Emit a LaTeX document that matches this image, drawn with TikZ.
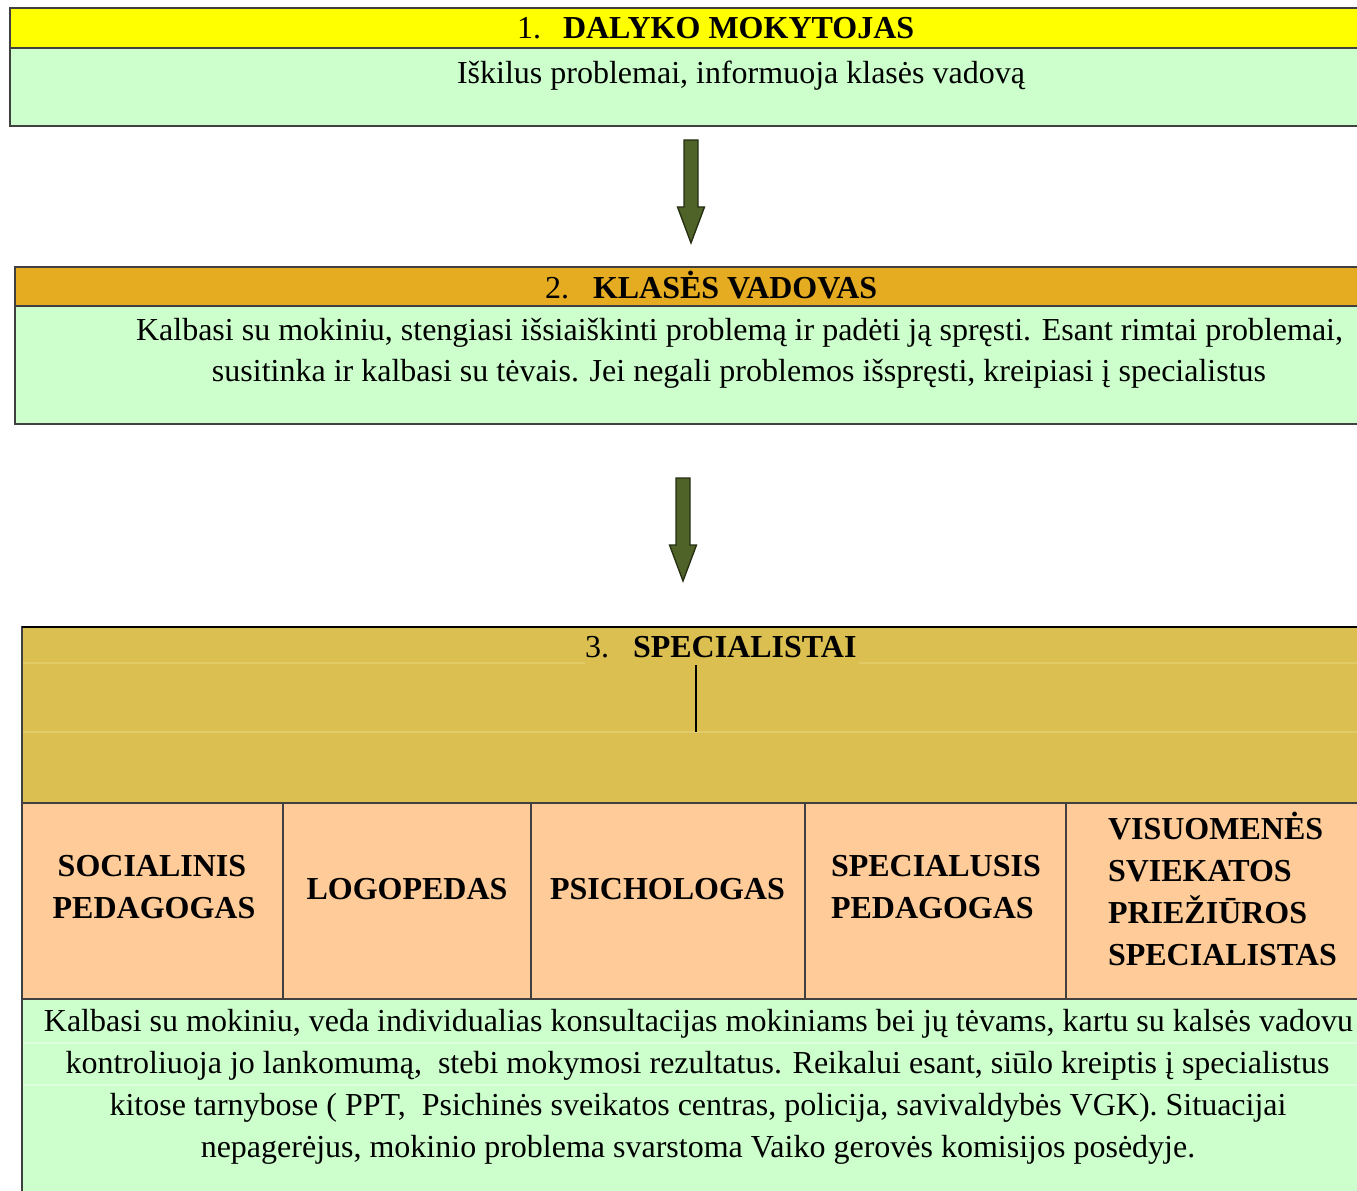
\documentclass[tikz,border=0pt]{standalone}
\usepackage{fontspec}
\setmainfont{Liberation Serif}
\usetikzlibrary{fit}
\definecolor{ylw}{HTML}{FFFF00}
\definecolor{grn}{HTML}{CCFFCC}
\definecolor{org}{HTML}{E5AC22}
\definecolor{gold}{HTML}{DBC051}
\definecolor{goldline}{HTML}{E1CB68}
\definecolor{grnline}{HTML}{DDFFDD}
\definecolor{peach}{HTML}{FFCC99}
\definecolor{olive}{HTML}{4F6228}
\definecolor{olivedark}{HTML}{262F12}
\definecolor{bord}{HTML}{404040}
\begin{document}
\begin{tikzpicture}[x=0.75pt,y=-0.75pt,
  every node/.style={font=\fontsize{24}{31.5}\selectfont, inner sep=0pt, outer sep=0pt},
  panel/.style={inner sep=0pt, draw=bord, line width=1pt},
  txt/.style={anchor=base},
  txtw/.style={anchor=base west},
  bold/.style={font=\fontsize{24}{31.5}\selectfont\bfseries},
  arrowst/.style={fill=olive, draw=olivedark, line width=1pt, line join=miter},
  blockarrow/.pic={\draw[arrowst] (-7,0) -- (7,0) -- (7,67) -- (13.5,67) -- (0,103) -- (-13.5,67) -- (-7,67) -- cycle;},
  faint/.style={line width=1pt}
]
\clip (0,0) rectangle (1357,1191);
\fill[white] (0,0) rectangle (1357,1191);

% ---- Box 1
\node[panel, fill=ylw, fit={(10,8) (1362,48)}] (h1) {};
\node[panel, fill=grn, fit={(10,48) (1362,126)}] (b1) {};
\node[txtw] (t1) at (517,38.5) {1.\hspace{16.5pt}\textbf{DALYKO MOKYTOJAS}};
\node[txt] (d1) at (741,84) {Iškilus problemai, informuoja klasės vadovą};

% ---- Arrow 1
\pic (arr1) at (691,140) {blockarrow};

% ---- Box 2
\node[panel, fill=org, fit={(15,267) (1362,306)}] (h2) {};
\node[panel, fill=grn, fit={(15,306) (1362,424)}] (b2) {};
\node[txtw] (t2) at (545,298.5) {2.\hspace{18pt}\textbf{KLASĖS VADOVAS}};
\node[txt] (d2a) at (739.5,340) {Kalbasi su mokiniu, stengiasi išsiaiškinti problemą ir padėti ją spręsti. Esant rimtai problemai,};
\node[txt] (d2b) at (739,382) {susitinka ir kalbasi su tėvais. Jei negali problemos išspręsti, kreipiasi į specialistus};

% ---- Arrow 2
\pic (arr2) at (683,478) {blockarrow};

% ---- Box 3
\node[panel, fill=gold, fit={(22,627) (1362,803)}] (h3) {};
\draw[goldline, faint] (23,663) -- (585,663);
\draw[goldline, faint] (859,663) -- (1357,663);
\draw[goldline, faint] (23,732) -- (1357,732);
\draw[black, line width=2pt] (22,627) -- (1362,627);
\node[txtw] (t3) at (585,657.5) {3.\hspace{18pt}\textbf{SPECIALISTAI}};
\coordinate (v1) at (696,665);
\coordinate (v2) at (696,732);
\draw[black, line width=1pt] (v1) -- (v2);

% ---- Specialists row
\node[panel, fill=peach, fit={(22,803) (283,999)}] (c1) {};
\node[panel, fill=peach, fit={(283,803) (531,999)}] (c2) {};
\node[panel, fill=peach, fit={(531,803) (805,999)}] (c3) {};
\node[panel, fill=peach, fit={(805,803) (1066,999)}] (c4) {};
\node[panel, fill=peach, fit={(1066,803) (1362,999)}] (c5) {};

\node[txt, bold] (s1a) at (152,876) {SOCIALINIS};
\node[txt, bold] (s1b) at (154,918) {PEDAGOGAS};
\node[txt, bold] (s2) at (407,899) {LOGOPEDAS};
\node[txt, bold] (s3) at (667.5,899) {PSICHOLOGAS};
\node[txtw, bold] (s4a) at (831,876) {SPECIALUSIS};
\node[txtw, bold] (s4b) at (831,918) {PEDAGOGAS};
\node[txtw, bold] (s5a) at (1108,839) {VISUOMENĖS};
\node[txtw, bold] (s5b) at (1108,881) {SVIEKATOS};
\node[txtw, bold] (s5c) at (1108,923) {PRIEŽIŪROS};
\node[txtw, bold] (s5d) at (1108,965) {SPECIALISTAS};

% ---- Bottom text
\node[panel, fill=grn, fit={(22,999) (1362,1200)}] (b3) {};
\draw[grnline, faint] (23,1043) -- (1357,1043);
\draw[grnline, faint] (23,1085) -- (1357,1085);
\node[txt] (d3a) at (698.5,1031) {Kalbasi su mokiniu, veda individualias konsultacijas mokiniams bei jų tėvams, kartu su kalsės vadovu};
\node[txt] (d3b) at (697.5,1073) {kontroliuoja jo lankomumą,\ \ stebi mokymosi rezultatus. Reikalui esant, siūlo kreiptis į specialistus};
\node[txt] (d3c) at (698,1115) {kitose tarnybose ( PPT,\ \ Psichinės sveikatos centras, policija, savivaldybės VGK). Situacijai};
\node[txt] (d3d) at (698,1157) {nepagerėjus, mokinio problema svarstoma Vaiko gerovės komisijos posėdyje.};
\end{tikzpicture}
\end{document}
